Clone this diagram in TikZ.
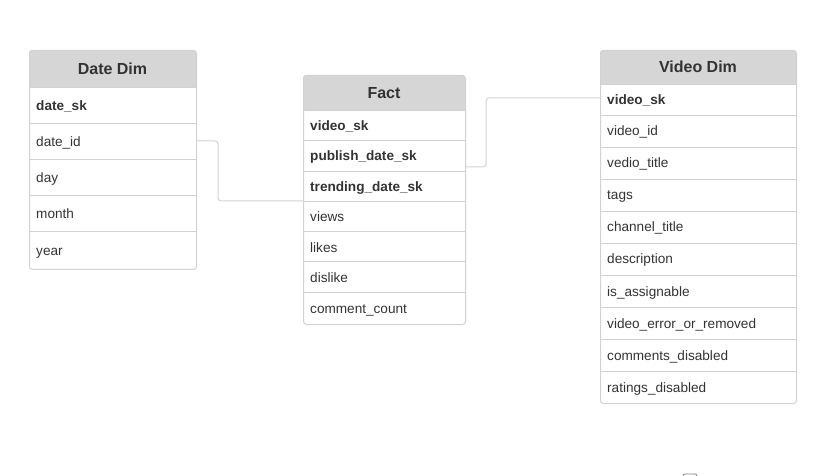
\documentclass[tikz,border=0pt]{standalone}
\usepackage{fontspec}
\setmainfont{Liberation Sans}
\usetikzlibrary{calc}
\definecolor{hdrgray}{HTML}{D6D6D6}
\definecolor{linegray}{HTML}{D2D2D2}
\definecolor{txtgray}{HTML}{333333}
\tikzset{
  tbl/.style={draw=linegray, rounded corners=3pt, line width=1pt, anchor=north west, inner sep=0},
  hdr/.style={font=\bfseries\fontsize{16}{18}\selectfont, text=txtgray, anchor=base},
  fld/.style={font=\fontsize{13.6}{15}\selectfont, text=txtgray, anchor=base west, inner sep=0},
  key/.style={fld, font=\bfseries\fontsize{13.6}{15}\selectfont},
  link/.style={draw=linegray, line width=1pt, rounded corners=3pt}
}

\begin{document}
\begin{tikzpicture}[x=1pt,y=-1pt]
\useasboundingbox (0,0) rectangle (823,476);

% Date Dim
\begin{scope}
\clip[rounded corners=3pt] (29,50) rectangle (196,269);
\fill[hdrgray] (29,50) rectangle (196,87);
\end{scope}
\node[tbl, minimum width=167, minimum height=219] (date) at (29,50) {};
\foreach \y in {87,123,159,195,231}
  \draw[linegray] (date.west |- 0,\y) -- (date.east |- 0,\y);
\node[hdr] (dateh) at (112.5,75) {Date Dim};
\node[key] (dsk) at (36,111) {date\_sk};
\foreach \n/\t/\y in {did/date\_id/147, dday/day/183, dmon/month/219, dyr/year/256}
  \node[fld] (\n) at (36,\y) {\t};

% Fact
\begin{scope}
\clip[rounded corners=3pt] (303,75) rectangle (465,324);
\fill[hdrgray] (303,75) rectangle (465,110);
\end{scope}
\node[tbl, minimum width=162, minimum height=249] (fact) at (303,75) {};
\foreach \y in {110,140,171,201,231,261,292}
  \draw[linegray] (fact.west |- 0,\y) -- (fact.east |- 0,\y);
\node[hdr] (facth) at (384,99) {Fact};
\foreach \n/\t/\y in {fvsk/video\_sk/131, fpub/publish\_date\_sk/161, ftrd/trending\_date\_sk/192}
  \node[key] (\n) at (310,\y) {\t};
\foreach \n/\t/\y in {fview/views/222, flike/likes/252, fdis/dislike/283, fcom/comment\_count/313}
  \node[fld] (\n) at (310,\y) {\t};

% Video Dim
\begin{scope}
\clip[rounded corners=3pt] (600,50) rectangle (796,403);
\fill[hdrgray] (600,50) rectangle (796,84);
\end{scope}
\node[tbl, minimum width=196, minimum height=353] (vdim) at (600,50) {};
\foreach \y in {84,115,147,179,211,243,275,307,339,371}
  \draw[linegray] (vdim.west |- 0,\y) -- (vdim.east |- 0,\y);
\node[hdr] (vdimh) at (698,73) {Video Dim};
\node[key] (vsk) at (607,105) {video\_sk};
\foreach \n/\t/\y in {vid/video\_id/136, vtit/vedio\_title/168, vtag/tags/200,
    vch/channel\_title/232, vdes/description/264, vasg/is\_assignable/296,
    verr/video\_error\_or\_removed/328, vcom/comments\_disabled/360, vrat/ratings\_disabled/392}
  \node[fld] (\n) at (607,\y) {\t};

% links
\draw[link] (date.east |- 0,141) -- ++(21,0) |- (fact.west |- 0,201);
\draw[link] (fact.east |- 0,167) -- ++(20,0) |- (vdim.west |- 0,98);

% cut-off control at the bottom edge
\draw[gray, line width=0.8pt, rounded corners=2pt] (683,478) -- (683,474) -- (697,474) -- (697,478);
\end{tikzpicture}
\end{document}
